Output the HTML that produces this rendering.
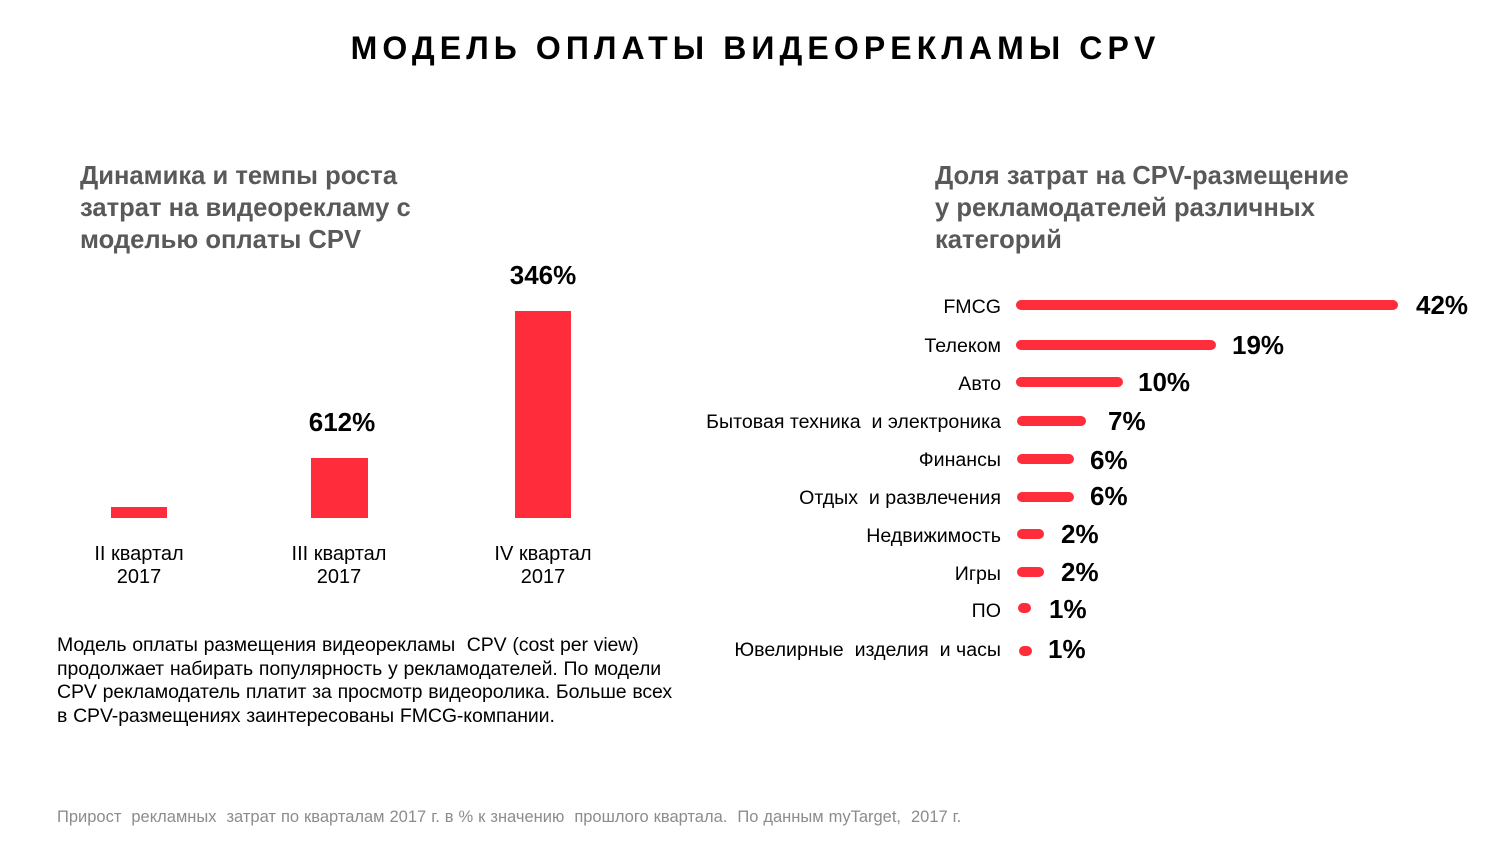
<!DOCTYPE html>
<html><head><meta charset="utf-8"><style>
body{margin:0;width:1495px;height:842px;background:#fff;position:relative;overflow:hidden;font-family:"Liberation Sans",sans-serif;}
div{position:absolute;}
.t{left:8px;width:1495px;top:30px;text-align:center;font-weight:bold;font-size:32px;letter-spacing:5.1px;color:#000;}
.sub{font-weight:bold;font-size:25.6px;line-height:32px;color:#595959;}
.bar{background:#ff2d3b;}
.ql{font-size:20px;line-height:23px;text-align:center;width:160px;color:#000;}
.v{font-weight:bold;font-size:26px;color:#000;line-height:30px;}
.lab{right:494px;font-size:19.6px;line-height:22px;color:#000;text-align:right;white-space:nowrap;}
.hb{background:#ff2d3b;height:10px;border-radius:5px;left:1016px;}
.txt{left:57px;top:634px;font-size:19.5px;line-height:23.5px;color:#000;letter-spacing:-0.1px;word-spacing:0.5px;}
.foot{left:57px;top:808px;font-size:16.5px;color:#8c8c8c;word-spacing:0.4px;}
</style></head><body>
<div class="t">МОДЕЛЬ ОПЛАТЫ ВИДЕОРЕКЛАМЫ CPV</div>
<div class="sub" style="left:80px;top:160px">Динамика и темпы роста<br>затрат на видеорекламу с<br>моделью оплаты CPV</div>
<div class="sub" style="left:935px;top:160px">Доля затрат на CPV-размещение<br>у рекламодателей различных<br>категорий</div>

<div class="bar" style="left:111px;top:507px;width:56px;height:11px"></div>
<div class="bar" style="left:311px;top:458px;width:57px;height:60px"></div>
<div class="bar" style="left:515px;top:311px;width:56px;height:207px"></div>
<div class="v" style="left:262px;width:160px;text-align:center;top:407px">612%</div>
<div class="v" style="left:463px;width:160px;text-align:center;top:260px">346%</div>
<div class="ql" style="left:59px;top:543px">II квартал<br>2017</div>
<div class="ql" style="left:259px;top:543px">III квартал<br>2017</div>
<div class="ql" style="left:463px;top:543px">IV квартал<br>2017</div>

<div class="txt">Модель оплаты размещения видеорекламы&nbsp; CPV (cost per view)<br>продолжает набирать популярность у рекламодателей. По модели<br>CPV рекламодатель платит за просмотр видеоролика. Больше всех<br>в CPV-размещениях заинтересованы FMCG-компании.</div>
<div class="foot">Прирост&nbsp; рекламных&nbsp; затрат по кварталам 2017 г. в % к значению&nbsp; прошлого квартала.&nbsp; По данным myTarget,&nbsp; 2017 г.</div>

<div class="lab" style="top:296px">FMCG</div>
<div class="hb" style="top:300px;width:382px"></div><div class="v" style="left:1416px;top:290px">42%</div>
<div class="lab" style="top:335px">Телеком</div>
<div class="hb" style="top:340px;width:200px"></div><div class="v" style="left:1232px;top:330px">19%</div>
<div class="lab" style="top:373px">Авто</div>
<div class="hb" style="top:377px;width:107px"></div><div class="v" style="left:1138px;top:367px">10%</div>
<div class="lab" style="top:411px">Бытовая техника&nbsp; и электроника</div>
<div class="hb" style="top:416px;width:69px;left:1017px"></div><div class="v" style="left:1108px;top:406px">7%</div>
<div class="lab" style="top:449px">Финансы</div>
<div class="hb" style="top:454px;width:57px;left:1017px"></div><div class="v" style="left:1090px;top:445px">6%</div>
<div class="lab" style="top:487px">Отдых&nbsp; и развлечения</div>
<div class="hb" style="top:492px;width:57px;left:1017px"></div><div class="v" style="left:1090px;top:481px">6%</div>
<div class="lab" style="top:525px">Недвижимость</div>
<div class="hb" style="top:529px;width:27px;left:1017px"></div><div class="v" style="left:1061px;top:519px">2%</div>
<div class="lab" style="top:563px">Игры</div>
<div class="hb" style="top:567px;width:27px;left:1017px"></div><div class="v" style="left:1061px;top:557px">2%</div>
<div class="lab" style="top:600px">ПО</div>
<div class="hb" style="top:603px;width:13px;left:1018px"></div><div class="v" style="left:1049px;top:594px">1%</div>
<div class="lab" style="top:639px">Ювелирные&nbsp; изделия&nbsp; и часы</div>
<div class="hb" style="top:646px;width:13px;left:1019px"></div><div class="v" style="left:1048px;top:634px">1%</div>
</body></html>
